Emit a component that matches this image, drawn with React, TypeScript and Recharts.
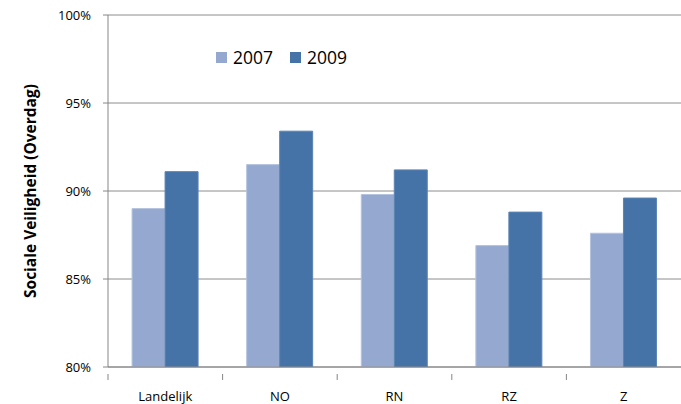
import React from 'react';
import { BarChart, Bar, XAxis, YAxis, CartesianGrid } from 'recharts';

const categories = ['Landelijk', 'NO', 'RN', 'RZ', 'Z'];
const values2007 = [0.890, 0.915, 0.898, 0.869, 0.876];
const values2009 = [0.911, 0.934, 0.912, 0.888, 0.896];
const yTicks = [0.8, 0.85, 0.9, 0.95, 1.0];

const data = categories.map((name, i) => ({
  name,
  y2007: values2007[i],
  y2009: values2009[i]
}));

const WIDTH = 681;
const HEIGHT = 404;
const LEFT = 108;
const FONT = '"Open Sans", "Noto Sans", sans-serif';
const bandWidth = (WIDTH - LEFT) / categories.length;

const CategoryTick = (props: any) => {
  const { x, y, payload } = props;
  const edge = x - bandWidth / 2;
  return (
    <g>
      <line x1={edge} y1={y - 1} x2={edge} y2={y + 5} stroke="#868686" strokeWidth={1} />
      <text x={x} y={y + 26} textAnchor="middle" fill="#000" fontSize={13} fontFamily={FONT}>
        {payload.value}
      </text>
    </g>
  );
};

const Swatch = ({ color }: { color: string }) => (
  <span style={{ width: 11, height: 11, background: color, display: 'inline-block', marginRight: 6 }} />
);

export default function App() {
  return (
    <div style={{ position: 'absolute', left: 0, top: 0, width: WIDTH, height: HEIGHT, background: '#fff' }}>
      <BarChart
        width={WIDTH}
        height={HEIGHT}
        data={data}
        margin={{ top: 15, right: 0, left: 0, bottom: 0 }}
        barCategoryGap="21%"
        barGap={0}
      >
        <CartesianGrid horizontal vertical={false} stroke="#8c8c8c" strokeWidth={1} />
        <XAxis
          dataKey="name"
          axisLine={{ stroke: '#868686' }}
          tickLine={false}
          tick={<CategoryTick />}
          interval={0}
          height={37}
        />
        <YAxis
          width={LEFT}
          domain={[0.8, 1.0]}
          ticks={yTicks}
          allowDataOverflow
          tickFormatter={(v: number) => `${Math.round(v * 100)}%`}
          axisLine={{ stroke: '#868686' }}
          tickLine={{ stroke: '#868686' }}
          tickSize={5}
          tickMargin={12}
          tick={{ fill: '#000', fontSize: 13, fontFamily: FONT }}
          label={{
            value: 'Sociale Veiligheid (Overdag)',
            angle: -90,
            position: 'insideLeft',
            offset: 30,
            style: { textAnchor: 'middle', fontWeight: 'bold', fontSize: 15.5, fontFamily: FONT, fill: '#000' }
          }}
        />
        <Bar dataKey="y2007" name="2007" fill="#95a9d0" stroke="#b4c3df" strokeWidth={1} isAnimationActive={false} />
        <Bar dataKey="y2009" name="2009" fill="#4573a7" stroke="#5b84b4" strokeWidth={1} isAnimationActive={false} />
      </BarChart>
      <div
        style={{
          position: 'absolute',
          left: 216,
          top: 45,
          display: 'flex',
          alignItems: 'center',
          fontFamily: FONT,
          fontSize: 17.5,
          color: '#000'
        }}
      >
        <Swatch color="#95a9d0" />
        <span style={{ marginRight: 17 }}>2007</span>
        <Swatch color="#4573a7" />
        <span>2009</span>
      </div>
    </div>
  );
}
